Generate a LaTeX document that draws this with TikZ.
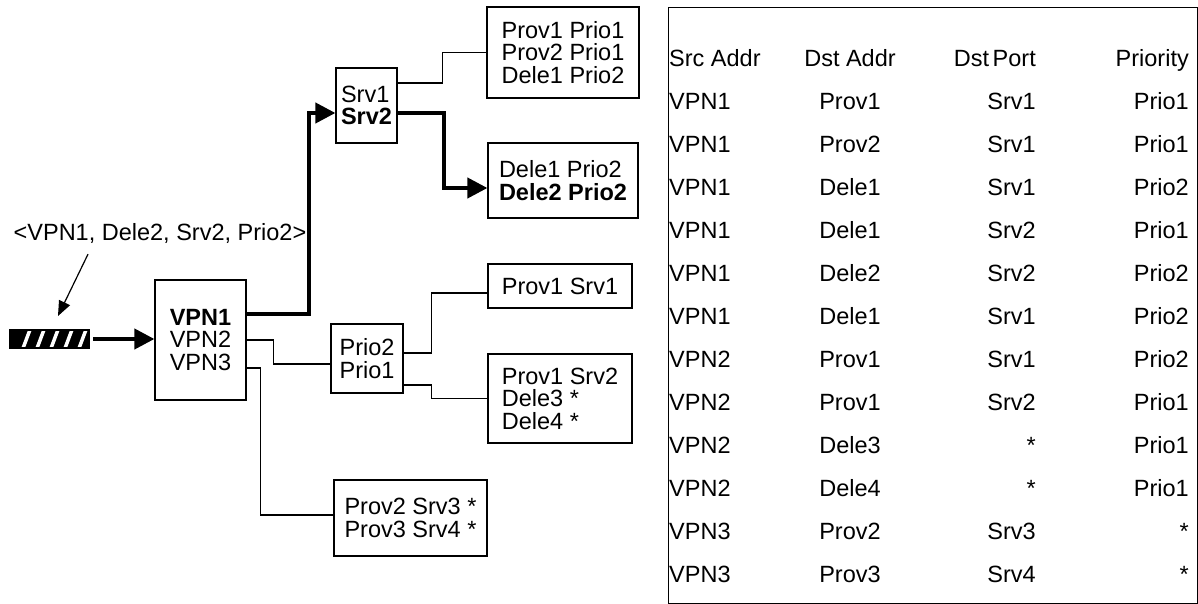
\documentclass[tikz,border=0pt]{standalone}
\usepackage{fontspec}
\setmainfont{Liberation Sans}
\usetikzlibrary{arrows.meta,calc}

\begin{document}
\begin{tikzpicture}[x=1pt, y=-1pt,
  font=\fontsize{23.5}{22.5}\selectfont,
  box/.style={draw, line width=1.2pt, align=left, inner sep=0pt},
  link/.style={line width=1.2pt},
  hot/.style={line width=4pt, -{Triangle[length=20pt,width=20pt]}},
  cell/.style={inner sep=0pt},
  packet/.style={draw, line width=2pt, fill=black, inner sep=0pt,
    minimum width=79pt, minimum height=18pt,
    path picture={\foreach \k in {0,...,4}
      \draw[white, line width=3.5pt] ($(path picture bounding box.south west)+(12+14*\k,3)$) -- ++(9,-24);}}
]
  \useasboundingbox (0,0) rectangle (1198,604);

  % classifier tree
  \node[packet] (packet) at (49.5,339) {};
  \node[cell] (pktlabel) at (160,233) {<VPN1, Dele2, Srv2, Prio2>};
  \node[box, minimum width=91pt, minimum height=120pt] (vpn) at (200.5,340) {\textbf{VPN1}\\VPN2\\VPN3};
  \node[box, minimum width=61pt, minimum height=75pt] (srv) at (366.5,105.5) {Srv1\\\textbf{Srv2}};
  \node[box, minimum width=152pt, minimum height=91pt] (srvone) at (563,52.5) {Prov1 Prio1\\Prov2 Prio1\\Dele1 Prio2};
  \node[box, minimum width=150pt, minimum height=75pt] (srvtwo) at (563,180.5) {Dele1 Prio2\\\textbf{Dele2 Prio2}};
  \node[box, minimum width=72pt, minimum height=69pt] (prio) at (367,358.5) {Prio2\\Prio1};
  \node[box, minimum width=144pt, minimum height=44pt] (priotwo) at (560,286) {Prov1 Srv1};
  \node[box, minimum width=144pt, minimum height=89pt] (prioone) at (560,398.5) {Prov1 Srv2\\Dele3 *\\Dele4 *};
  \node[box, minimum width=153pt, minimum height=76pt] (vpnthree) at (410.5,518) {Prov2 Srv3 *\\Prov3 Srv4 *};

  \draw[hot, shorten <=3pt] (packet.east) -- (packet.east -| vpn.west);
  \draw[link, -{Triangle[length=15pt,width=12pt]}] ($(pktlabel.south)+(-72,11)$) -- ($(packet.north)+(8.5,-13)$);
  \draw[hot] ($(vpn.east)+(0,-26)$) -| ($(srv.west)+(-26,7.5)$) -- ($(srv.west)+(0,7.5)$);
  \draw[link] (vpn.east) -- ++(27,0) |- ($(prio.west)+(0,5.5)$);
  \draw[link] ($(vpn.east)+(0,28)$) -- ++(14,0) |- ($(vpnthree.west)+(0,-3)$);
  \draw[link] ($(srv.east)+(0,-22.5)$) -- ++(45,0) |- (srvone.west);
  \draw[hot] ($(srv.east)+(0,7.5)$) -- ++(46,0) |- ($(srvtwo.west)+(0,7.5)$);
  \draw[link] ($(prio.east)+(0,-5.5)$) -- ++(28,0) |- ($(priotwo.west)+(0,7)$);
  \draw[link] ($(prio.east)+(0,26.5)$) -- ++(28,0) |- (prioone.west);

  % rule table
  \node[draw, line width=1pt, minimum width=529pt, minimum height=595pt] (tbl) at (932.5,305.5) {};
  \node[cell, anchor=base west] (hsrc) at (669,66.4) {Src Addr};
  \node[cell, anchor=base] (hdst) at (850,66.4) {Dst Addr};
  \node[cell, anchor=base east] (hport) at (1036,66.4) {Dst\hspace{3.5pt}Port};
  \node[cell, anchor=base east] (hprio) at (1189,66.4) {Priority};
  \foreach \src/\dst/\port/\prio [count=\r] in {
      VPN1/Prov1/Srv1/Prio1, VPN1/Prov2/Srv1/Prio1, VPN1/Dele1/Srv1/Prio2,
      VPN1/Dele1/Srv2/Prio1, VPN1/Dele2/Srv2/Prio2, VPN1/Dele1/Srv1/Prio2,
      VPN2/Prov1/Srv1/Prio2, VPN2/Prov1/Srv2/Prio1, VPN2/Dele3/*/Prio1,
      VPN2/Dele4/*/Prio1, VPN3/Prov2/Srv3/*, VPN3/Prov3/Srv4/*} {
    \node[cell, anchor=base west] (src\r) at (669,66.4+43*\r) {\src};
    \node[cell, anchor=base] (dst\r) at (850,66.4+43*\r) {\dst};
    \node[cell, anchor=base east] (port\r) at (1036,66.4+43*\r) {\port};
    \node[cell, anchor=base east] (prio\r) at (1189,66.4+43*\r) {\prio};
  }
\end{tikzpicture}
\end{document}
